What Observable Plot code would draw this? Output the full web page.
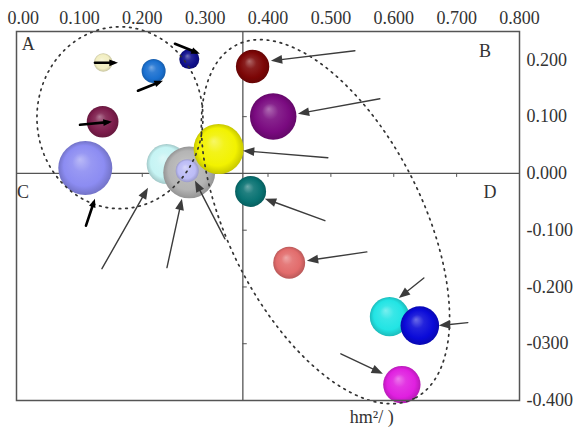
<!DOCTYPE html>
<html><head><meta charset="utf-8">
<script src="https://cdn.jsdelivr.net/npm/d3@7"></script>
<script src="https://cdn.jsdelivr.net/npm/@observablehq/plot@0.6"></script>
<style>html,body{margin:0;padding:0;background:#fff} svg{display:block}</style>
</head><body><div id="chart"></div>
<script>
// ---- data ----
const bubbleIds  = ["lavender","plum","cream","azure","navy","maroon","purple","lightcyan","gray","smalllav","yellow","teal","salmon","cyan","blue","magenta"];
const bubbleX    = [0.1094, 0.137, 0.138, 0.2181, 0.2748, 0.3755, 0.4083, 0.2388, 0.2747, 0.2715, 0.3215, 0.3723, 0.4337, 0.5933, 0.6415, 0.6129];
const bubbleY    = [0.0095, 0.091, 0.1954, 0.1803, 0.2014, 0.1884, 0.1004, 0.0165, 0.0018, 0.0048, 0.043, -0.0317, -0.1572, -0.2523, -0.2681, -0.372];
const bubbleSize = [93, 32, 11, 18.4, 12.8, 35.5, 69, 51, 86, 17, 80, 30.6, 32.6, 49.5, 47.5, 44.6];
const palette    = ["#8c8cf2","#7d1d4c","#f2eec2","#1a70d0","#10108c","#7c0606","#7a0a80","#c6f4f4","#b4b4b4","#bcbcf6","#f2f200","#087272","#e26c6c","#22e4e4","#0a0ad8","#e020e0"];

const xTicks = [0, 0.1, 0.2, 0.3, 0.4, 0.5, 0.6, 0.7, 0.8];
const xTickLabels = ["0.00","0.100","0.200","0.300","0.400","0.500","0.600","0.700","0.800"];
const yTicks = [0.2, 0.1, 0, -0.1, -0.2, -0.3, -0.4];
const yTickLabels = ["0.200","0.100","0.000","-0.100","-0.200","-0300","-0.400"];

const quadLabels = ["A","B","C","D"];
const quadX = [0.0185, 0.745, 0.0105, 0.753];
const quadY = [0.228, 0.216, -0.034, -0.034];

const xCross = 0.36, yCross = 0;
const innerXTicks = [0.1, 0.2, 0.3, 0.4, 0.5, 0.6, 0.7];
const innerYTicks = [0.2, 0.1, -0.1, -0.2, -0.3];

// bold black arrows
const boldX1 = [0.1248, 0.1932, 0.2520, 0.1010, 0.1105];
const boldY1 = [0.1949, 0.1456, 0.2283, 0.0857, -0.0921];
const boldX2 = [0.1614, 0.2329, 0.2917, 0.1518, 0.1248];
const boldY2 = [0.1949, 0.1632, 0.2107, 0.0910, -0.0445];
// thin grey arrows
const thinX1 = [0.5382, 0.5779, 0.4952, 0.4905, 0.5572, 0.6479, 0.7178, 0.5159, 0.1359, 0.2393, 0.3315];
const thinY1 = [0.2160, 0.1315, 0.0276, -0.0833, -0.1382, -0.1843, -0.2628, -0.3178, -0.1678, -0.1660, -0.1153];
const thinX2 = [0.4046, 0.4475, 0.3601, 0.3951, 0.4618, 0.6081, 0.6717, 0.5827, 0.2091, 0.2631, 0.2838];
const thinY2 = [0.1984, 0.1051, 0.0400, -0.0445, -0.1537, -0.2195, -0.2681, -0.3530, -0.0252, -0.0445, -0.0129];

// dotted group outlines (center, half-axis vectors in data units)
const groupLeft  = {cx: 0.1645, cy: 0.0981, ax: 0.1320, ay: 0, bx: 0, by: 0.1602};
const groupRight = {cx: 0.4914, cy: -0.0850, ax: 0.14143, ay: -0.31143, bx: -0.13777, by: -0.07673};

const axisLabel = "hm\u00b2/ )";

// ---- layout ----
const W = 574, H = 435, mL = 16, mR = 55, mT = 31, mB = 35;
const xDom = [0, 0.8], yDom = [-0.4, 0.25];
const kx = (W - mL - mR) / (xDom[1] - xDom[0]);
const ky = (H - mT - mB) / (yDom[1] - yDom[0]);

const bubbles = bubbleIds.map((id, i) => ({id, x: bubbleX[i], y: bubbleY[i], s: bubbleSize[i], fill: `url(#sph${i})`}));
function arrows(X1, Y1, X2, Y2) {
  return X1.map((_, i) => ({x1: X1[i], y1: Y1[i], x2: X2[i], y2: Y2[i],
    angle: Math.atan2((X2[i] - X1[i]) * kx, (Y2[i] - Y1[i]) * ky) * 180 / Math.PI}));
}
const bold = arrows(boldX1, boldY1, boldX2, boldY2);
const thin = arrows(thinX1, thinY1, thinX2, thinY2);

function outline(e) {
  const pts = [];
  for (let k = 0; k < 120; k++) {
    const t = 2 * Math.PI * k / 120;
    pts.push({x: e.cx + Math.cos(t) * e.ax + Math.sin(t) * e.bx, y: e.cy + Math.cos(t) * e.ay + Math.sin(t) * e.by});
  }
  return pts;
}

const head = {
  draw(ctx, size) {
    const r = Math.sqrt(size / Math.PI);
    const L = 2.7 * r, w = 1.05 * r;
    ctx.moveTo(0, 0);
    ctx.lineTo(-w, L);
    ctx.lineTo(w, L);
    ctx.closePath();
  }
};

const defsMark = () => {
  const ns = "http://www.w3.org/2000/svg";
  const defs = document.createElementNS(ns, "defs");
  palette.forEach((c, i) => {
    const rg = document.createElementNS(ns, "radialGradient");
    rg.setAttribute("id", `sph${i}`);
    rg.setAttribute("cx", "50%"); rg.setAttribute("cy", "50%"); rg.setAttribute("r", "50%");
    rg.setAttribute("fx", "40%"); rg.setAttribute("fy", "34%");
    const stops = [
      [0, d3.interpolateRgb(c, "#fff")(0.4)],
      [0.35, d3.interpolateRgb(c, "#fff")(0.1)],
      [0.75, c],
      [1, d3.color(c).darker(0.55).formatHex()]
    ];
    for (const [o, col] of stops) {
      const s = document.createElementNS(ns, "stop");
      s.setAttribute("offset", o);
      s.setAttribute("stop-color", col);
      rg.appendChild(s);
    }
    defs.appendChild(rg);
  });
  return defs;
};

const font = "Liberation Serif, Times New Roman, serif";
const txt = "#333";

const chart = Plot.plot({
  width: W, height: H,
  marginLeft: mL, marginRight: mR, marginTop: mT, marginBottom: mB,
  x: {domain: xDom, axis: null},
  y: {domain: yDom, axis: null},
  r: {type: "sqrt", domain: [0, 100], range: [0, 28]},
  color: {type: "identity"},
  style: {fontFamily: font, background: "#fff"},
  marks: [
    defsMark,
    Plot.ruleX([xCross], {stroke: "#555", strokeWidth: 1.3}),
    Plot.ruleY([yCross], {stroke: "#555", strokeWidth: 1.3}),
    Plot.ruleX(innerXTicks, {x: d => d, y1: yCross, y2: yCross - 0.007, stroke: "#555", strokeWidth: 1}),
    Plot.ruleY(innerYTicks, {y: d => d, x1: xCross, x2: xCross + 0.007, stroke: "#555", strokeWidth: 1}),
    Plot.dot(bubbles, {x: "x", y: "y", r: "s", fill: "fill", stroke: "none", sort: null}),
    Plot.line(outline(groupLeft), {x: "x", y: "y", curve: "linear-closed", stroke: "#333", strokeWidth: 1.7, strokeDasharray: "1.6 5"}),
    Plot.line(outline(groupRight), {x: "x", y: "y", curve: "linear-closed", stroke: "#333", strokeWidth: 1.7, strokeDasharray: "1.6 5"}),
    Plot.arrow(thin, {x1: "x1", y1: "y1", x2: "x2", y2: "y2", headLength: 0, insetEnd: 6, stroke: "#3c3c3c", strokeWidth: 1.4}),
    Plot.dot(thin, {x: "x2", y: "y2", symbol: head, r: 4.2, rotate: "angle", fill: "#3c3c3c", stroke: "none"}),
    Plot.arrow(bold, {x1: "x1", y1: "y1", x2: "x2", y2: "y2", headLength: 0, insetEnd: 4, stroke: "#000", strokeWidth: 2.6}),
    Plot.dot(bold, {x: "x2", y: "y2", symbol: head, r: 3.2, rotate: "angle", fill: "#000", stroke: "none"}),
    Plot.frame({stroke: "#555", strokeWidth: 1.5}),
    Plot.text(xTicks.slice(0, 1), {x: d => d, y: yDom[1], text: () => xTickLabels[0], textAnchor: "start", dx: -9, dy: -13, fontSize: 18, fill: txt}),
    Plot.text(xTicks.slice(1), {x: d => d, y: yDom[1], text: (d, i) => xTickLabels[i + 1], dy: -13, fontSize: 18, fill: txt}),
    Plot.text(yTicks, {x: xDom[1], y: d => d, text: (d, i) => yTickLabels[i], textAnchor: "start", dx: 7, fontSize: 18, fill: txt}),
    Plot.text(quadLabels, {x: (d, i) => quadX[i], y: (d, i) => quadY[i], text: d => d, fontSize: 18, fill: txt}),
    Plot.text([axisLabel], {x: 0.565, y: yDom[0], text: d => d, dy: 17, fontSize: 18, fill: txt})
  ]
});
document.getElementById("chart").appendChild(chart);
</script>
</body></html>
